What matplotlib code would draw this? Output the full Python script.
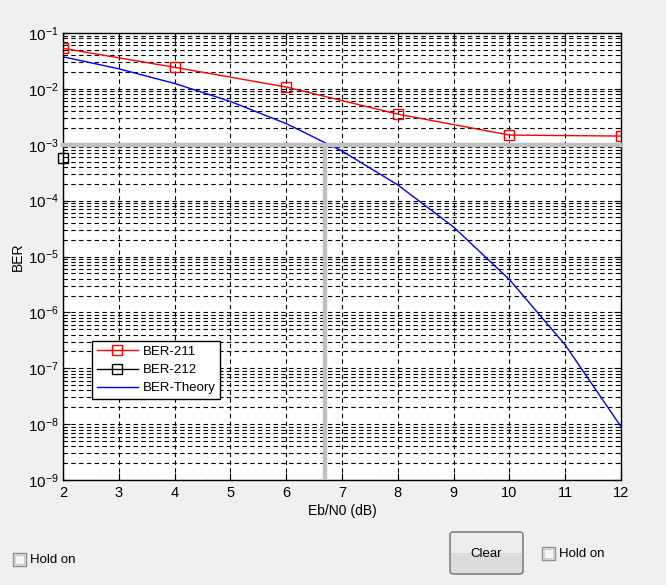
import numpy as np
import matplotlib
matplotlib.use("Agg")
from matplotlib import pyplot as plt
from matplotlib.patches import Rectangle, FancyBboxPatch
from matplotlib.ticker import LogLocator, FixedLocator, NullFormatter

plt.rcParams['font.family'] = ['Liberation Sans', 'DejaVu Sans']
plt.rcParams['mathtext.fontset'] = 'custom'
plt.rcParams['mathtext.rm'] = 'Liberation Sans'
plt.rcParams['mathtext.default'] = 'regular'

# data
snr_211 = [2, 4, 6, 8, 10, 12]
ber_211 = [0.0532, 0.0243, 0.0108, 0.00353, 0.00149, 0.00143]

snr_212 = [2]
ber_212 = [5.8e-4]

snr_theory = [2, 3, 4, 5, 6, 7, 8, 9, 10, 11, 12]
ber_theory = [0.03751, 0.02288, 0.01250, 0.005954, 0.002388, 7.727e-4,
              1.909e-4, 3.362e-5, 3.872e-6, 2.613e-7, 9.006e-9]

ber_target = 1e-3
snr_target = 6.7

x_ticks = [2, 3, 4, 5, 6, 7, 8, 9, 10, 11, 12]
y_exps = [-9, -8, -7, -6, -5, -4, -3, -2, -1]

W, H = 666, 585
bg = '#F0F0F0'
fig = plt.figure(figsize=(W / 100, H / 100), dpi=100, facecolor=bg)
ax = fig.add_axes([63 / W, (H - 480) / H, (621 - 63) / W, (480 - 33) / H])

ax.semilogy(snr_211, ber_211, color='red', lw=1.0, marker='s', ms=7.5,
            mfc='none', mec='red', mew=1.0, label='BER-211', zorder=4)
ax.semilogy(snr_212, ber_212, color='black', lw=1.0, marker='s', ms=7.5,
            mfc='none', mec='black', mew=1.0, label='BER-212', zorder=4,
            clip_on=False)
ax.semilogy(snr_theory, ber_theory, color='blue', lw=1.0, label='BER-Theory', zorder=3)

# threshold markers
ax.axhline(ber_target, color='#C0C0C0', lw=3.2, zorder=5, clip_on=False)
ax.plot([snr_target, snr_target], [1e-9, ber_target], color='#C0C0C0', lw=3.2,
        zorder=5, solid_capstyle='butt')

ax.set_xlim(2, 12)
ax.set_ylim(1e-9, 1e-1)
ax.xaxis.set_major_locator(FixedLocator(x_ticks))
ax.set_xticklabels([str(t) for t in x_ticks])
ax.yaxis.set_major_locator(FixedLocator([10.0 ** e for e in y_exps]))
ax.set_yticklabels(['$10^{%d}$' % e for e in y_exps])
ax.yaxis.set_minor_locator(LogLocator(base=10, subs=np.arange(2, 10), numticks=20))
ax.yaxis.set_minor_formatter(NullFormatter())

grid_style = dict(color='black', lw=0.8, linestyle=(0, (4, 3)))
ax.grid(True, which='major', axis='both', **grid_style)
ax.grid(True, which='minor', axis='y', **grid_style)

ax.tick_params(which='both', direction='in', top=True, right=True,
               colors='black', pad=4)
ax.tick_params(axis='x', labelsize=10.5)
ax.tick_params(axis='y', labelsize=11, pad=3)
ax.tick_params(which='major', length=5)
ax.tick_params(which='minor', length=3)
for s in ax.spines.values():
    s.set_linewidth(1.0)
    s.set_color('black')

ax.set_xlabel('Eb/N0 (dB)', fontsize=10, labelpad=3)
ax.set_ylabel('BER', fontsize=10, labelpad=2)

leg = ax.legend(loc='lower left', bbox_to_anchor=((92 - 63) / 558, (480 - 399) / 447),
                fontsize=9.5, fancybox=False, framealpha=1, edgecolor='black',
                borderpad=0.35, labelspacing=0.45, handlelength=3.1,
                handletextpad=0.38, borderaxespad=0)
leg.get_frame().set_linewidth(1.0)


# GUI widgets below the plot
def fx(px):
    return px / W


def fy(py):
    return (H - py) / H


def checkbox(x0, y0, text):
    fig.patches.append(Rectangle((fx(x0), fy(y0 + 13)), 13 / W, 13 / H,
                                 transform=fig.transFigure, facecolor='#E6E6E6',
                                 edgecolor='#8E8E8E', lw=1.0))
    fig.patches.append(Rectangle((fx(x0 + 2), fy(y0 + 11)), 9 / W, 9 / H,
                                 transform=fig.transFigure, facecolor='#F4F4F4',
                                 edgecolor='#C8C8C8', lw=0.6))
    fig.text(fx(x0 + 17), fy(y0 + 7), text, fontsize=9.5, va='center', ha='left')


checkbox(13, 553, 'Hold on')
checkbox(542, 547, 'Hold on')

fig.patches.append(FancyBboxPatch((fx(450), fy(574)), 73 / W, 42 / H,
                                  boxstyle='round,pad=0,rounding_size=0.005',
                                  transform=fig.transFigure, facecolor='#DCDCDC',
                                  edgecolor='#707070', lw=1.0))
fig.patches.append(Rectangle((fx(451), fy(553)), 71 / W, 20 / H,
                             transform=fig.transFigure, facecolor='#EDEDED',
                             edgecolor='none'))
fig.text(fx(486.5), fy(554), 'Clear', fontsize=9.5, ha='center', va='center')

fig.savefig('out.png', dpi=100, facecolor=bg)
